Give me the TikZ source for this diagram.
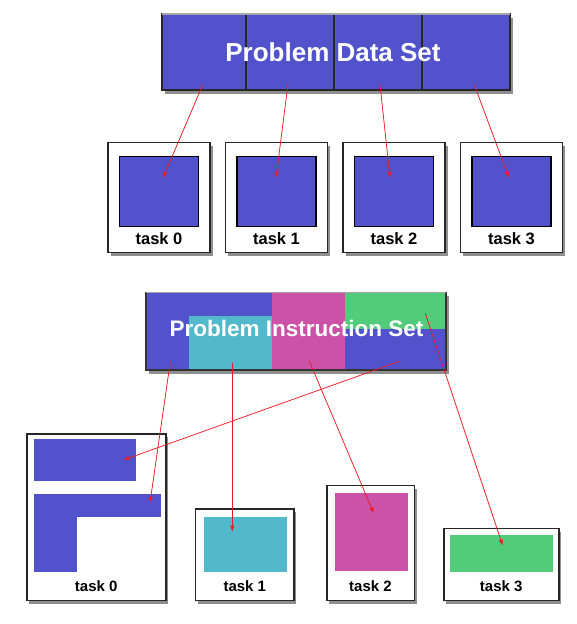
\documentclass[tikz,border=0pt]{standalone}
\usepackage{fontspec}
\setmainfont{Liberation Sans}
\usetikzlibrary{positioning,shadows,arrows.meta,calc}

\definecolor{setblue}{RGB}{82,82,204}
\definecolor{setcyan}{RGB}{82,184,204}
\definecolor{setpink}{RGB}{204,82,168}
\definecolor{setgreen}{RGB}{82,204,122}
\definecolor{arrowred}{RGB}{232,28,36}

\begin{document}
\begin{tikzpicture}[x=1pt,y=-1pt,node distance=117.5pt,>={Latex[length=6pt,width=4.5pt]},
    bar/.style={fill=setblue,inner sep=0pt,outer sep=0pt,
        drop shadow={shadow xshift=3pt,shadow yshift=-3.5pt,opacity=0.55,fill=black!80}},
    dataseg/.style={draw=black!85,line width=1.2pt,fill=setblue,minimum height=76pt,inner sep=0pt,outer sep=0pt},
    piece/.style={inner sep=0pt,outer sep=0pt},
    barframe/.style={draw=black!80,line width=1.2pt},
    highlight/.style={draw=black!35,line width=1.2pt},
    titletext/.style={text=white,font=\bfseries,inner sep=0pt},
    taskbox/.style={draw=black!85,line width=1.6pt,fill=white,inner sep=0pt,outer sep=0pt,
        drop shadow={shadow xshift=2.5pt,shadow yshift=-3pt,opacity=0.55,fill=black!80}},
    datasq/.style={draw=black,line width=1.4pt,fill=setblue,minimum width=79pt,minimum height=70pt,inner sep=0pt,outer sep=0pt},
    tasklabel/.style={font=\bfseries,inner sep=0pt,anchor=base},
    link/.style={->,draw=arrowred,fill=arrowred,line width=0.7pt}]
    \useasboundingbox (0,0) rectangle (576,624);

    % problem data set
    \node (dataset) [bar,minimum width=348pt,minimum height=76pt] at (336,52) {};
    \node (ds0) [dataseg,minimum width=84pt] at (204,52) {};
    \node (ds1) [dataseg,minimum width=88pt,right=0pt of ds0] {};
    \node (ds2) [dataseg,minimum width=88pt,right=0pt of ds1] {};
    \node (ds3) [dataseg,minimum width=88pt,right=0pt of ds2] {};
    \draw[highlight] (dataset.north west) -- (dataset.north east);
    \node (datatitle) [titletext,font=\bfseries\fontsize{26}{30}\selectfont,anchor=base] at (333,61) {Problem Data Set};

    \node (dt0) [taskbox,minimum width=102pt,minimum height=110pt] at (159,197.5) {};
    \node (dt1) [taskbox,minimum width=102pt,minimum height=110pt,right of=dt0] {};
    \node (dt2) [taskbox,minimum width=102pt,minimum height=110pt,right of=dt1] {};
    \node (dt3) [taskbox,minimum width=102pt,minimum height=110pt,right of=dt2] {};

    \node (di0) [datasq,below=14pt of dt0.north] {};
    \node (di1) [datasq,below=14pt of dt1.north] {};
    \node (di2) [datasq,below=14pt of dt2.north] {};
    \node (di3) [datasq,below=14pt of dt3.north] {};

    \node (dl0) [tasklabel,font=\bfseries\fontsize{16.5}{18}\selectfont] at ($(dt0.south)+(0,-8.5)$) {task 0};
    \node (dl1) [tasklabel,font=\bfseries\fontsize{16.5}{18}\selectfont] at ($(dt1.south)+(0,-8.5)$) {task 1};
    \node (dl2) [tasklabel,font=\bfseries\fontsize{16.5}{18}\selectfont] at ($(dt2.south)+(0,-8.5)$) {task 2};
    \node (dl3) [tasklabel,font=\bfseries\fontsize{16.5}{18}\selectfont] at ($(dt3.south)+(0,-8.5)$) {task 3};

    \coordinate (dsrc0) at (203,84);
    \coordinate (dsrc1) at (288,84);
    \coordinate (dsrc2) at (380,84);
    \coordinate (dsrc3) at (474,84);
    \coordinate (dtgt0) at (163,178);
    \coordinate (dtgt1) at (276,178);
    \coordinate (dtgt2) at (390,178);
    \coordinate (dtgt3) at (509,178);

    \draw[link] (dsrc0) -- (dtgt0);
    \draw[link] (dsrc1) -- (dtgt1);
    \draw[link] (dsrc2) -- (dtgt2);
    \draw[link] (dsrc3) -- (dtgt3);

    % problem instruction set
    \node (instset) [bar,minimum width=300pt,minimum height=77.5pt] at (296,331.25) {};
    \node (iscyan) [piece,fill=setcyan,minimum width=83pt,minimum height=54pt] at (230.5,343) {};
    \node (ispink) [piece,fill=setpink,minimum width=73pt,minimum height=77.5pt] at (308.5,331.25) {};
    \node (isgreen) [piece,fill=setgreen,minimum width=101pt,minimum height=36.5pt] at (395.5,310.75) {};
    \draw[barframe] (instset.north west) rectangle (instset.south east);
    \draw[highlight] (instset.north west) -- (instset.north east);
    \node (insttitle) [titletext,font=\bfseries\fontsize{22.5}{26}\selectfont,anchor=base] at (296.5,336) {Problem Instruction Set};

    \node (it0) [taskbox,minimum width=139pt,minimum height=166.7pt] at (96.2,517.15) {};
    \node (it1) [taskbox,minimum width=98.3pt,minimum height=91.7pt] at (244.8,554.65) {};
    \node (it2) [taskbox,minimum width=87.6pt,minimum height=115pt] at (370.5,543) {};
    \node (it3) [taskbox,minimum width=115pt,minimum height=72pt] at (501.2,564.5) {};

    \node (ip0a) [piece,fill=setblue,minimum width=102pt,minimum height=41.7pt] at (85,459.85) {};
    \node (ip0b) [piece,fill=setblue,minimum width=126.7pt,minimum height=22.7pt] at (97.35,505.35) {};
    \node (ip0c) [piece,fill=setblue,minimum width=43pt,minimum height=62pt] at (55.5,541) {};
    \node (ip1) [piece,fill=setcyan,minimum width=83.3pt,minimum height=55pt] at (245.7,544.5) {};
    \node (ip2) [piece,fill=setpink,minimum width=73pt,minimum height=78pt] at (371.5,531.7) {};
    \node (ip3) [piece,fill=setgreen,minimum width=103.3pt,minimum height=37.3pt] at (501.7,553.7) {};

    \node (il0) [tasklabel,font=\bfseries\fontsize{15}{17}\selectfont] at ($(it0.south)+(0,-9)$) {task 0};
    \node (il1) [tasklabel,font=\bfseries\fontsize{15}{17}\selectfont] at ($(it1.south)+(0,-9)$) {task 1};
    \node (il2) [tasklabel,font=\bfseries\fontsize{15}{17}\selectfont] at ($(it2.south)+(0,-9)$) {task 2};
    \node (il3) [tasklabel,font=\bfseries\fontsize{15}{17}\selectfont] at ($(it3.south)+(0,-9)$) {task 3};

    \coordinate (isrc0a) at (400.3,361);
    \coordinate (isrc0b) at (170.3,361.7);
    \coordinate (isrc1) at (232.3,362.7);
    \coordinate (isrc2) at (309.3,361);
    \coordinate (isrc3) at (425.3,313.3);
    \coordinate (itgt0a) at (123.3,460);
    \coordinate (itgt0b) at (150,502.7);
    \coordinate (itgt1) at (232.3,531.7);
    \coordinate (itgt2) at (373.7,513.3);
    \coordinate (itgt3) at (502.7,545.7);

    \draw[link] (isrc0a) -- (itgt0a);
    \draw[link] (isrc0b) -- (itgt0b);
    \draw[link] (isrc1) -- (itgt1);
    \draw[link] (isrc2) -- (itgt2);
    \draw[link] (isrc3) -- (itgt3);
\end{tikzpicture}
\end{document}
